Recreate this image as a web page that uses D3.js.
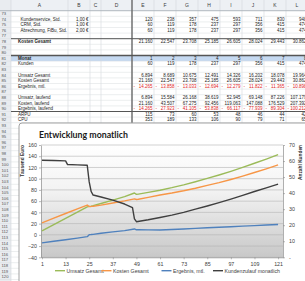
<!DOCTYPE html>
<html>
<head>
<meta charset="utf-8">
<script src="https://cdn.jsdelivr.net/npm/d3@7"></script>
<style>
  body { margin: 0; background: #fff; }
  svg { display: block; }
</style>
</head>
<body>
<div id="blatt"></div>
<script>
// Tabellenwerte, Spalten E bis L
var spalten = ["A", "B", "C", "D", "E", "F", "G", "H", "I", "J", "K", "L"];
var kundenserviceStd = [120, 238, 357, 475, 593, 711, 830, 948];
var crmStd = [60, 119, 178, 237, 297, 356, 415, 474];
var abrechnungStd = [60, 119, 178, 237, 297, 356, 415, 474];
var kostenGesamt = [21160, 22547, 23708, 25185, 26605, 28024, 29443, 30862];
var monatNr = [1, 2, 3, 4, 5, 6, 7, 8];
var kunden = [60, 119, 178, 237, 297, 356, 415, 474];
var umsatzGesamt = [6894, 8689, 10675, 12491, 14326, 16202, 18078, 19964];
var ergebnisMtl = [-14265, -13858, -13033, -12694, -12279, -11822, -11365, -10898];
var umsatzLaufend = [6894, 15584, 26168, 38619, 52945, 69148, 87226, 107179];
var kostenLaufend = [21160, 43507, 67275, 92456, 119063, 147088, 176529, 207392];
var ergebnisLaufend = [-14265, -27923, -41105, -53838, -66117, -77939, -89304, -100212];
var arpu = [115, 73, 60, 53, 48, 46, 44, 42];
var cpu = [353, 189, 133, 106, 90, 79, 71, 65];

// Diagramm "Entwicklung monatlich" (Tausend Euro, Kunden rechts)
var monate = [1, 7, 13, 19, 24, 25, 26, 27, 31, 37, 43, 48, 49, 50, 55, 61, 67, 73, 79, 85, 91, 97, 103, 109, 115, 121];
var umsatzVerlauf = [6.9, 18.1, 29.3, 40.5, 49.8, 50.6, 51.1, 51.9, 55.8, 61.9, 68.0, 74.5, 72.0, 72.6, 75.6, 79.5, 84.0, 89.0, 94.5, 100.5, 106.5, 113.0, 120.0, 127.5, 135.0, 143.0];
var kostenVerlauf = [21.2, 29.6, 38.0, 46.4, 53.0, 50.3, 50.6, 51.0, 53.0, 56.6, 60.4, 64.0, 63.0, 63.4, 66.8, 71.0, 74.5, 78.5, 83.0, 88.0, 93.0, 98.5, 104.5, 111.0, 117.5, 124.5];
var ergebnisVerlauf = [-14.3, -11.5, -8.7, -5.9, -3.2, 0.3, 0.5, 0.9, 2.8, 5.3, 7.6, 10.5, 9.0, 9.2, 8.8, 8.5, 9.5, 10.5, 11.5, 12.5, 13.5, 14.5, 15.5, 16.5, 17.5, 18.5];
var kundenMonate = [1, 7, 13, 14, 19, 24, 25, 26, 27, 31, 37, 43, 47, 48, 49, 55, 61, 67, 73, 79, 85, 91, 97, 103, 109, 115, 121];
var kundenzulauf = [60.5, 60.3, 60.1, 57.8, 57.6, 57.4, 47, 41, 38.8, 37.6, 35.6, 33.2, 31, 24, 22.2, 23.4, 24.8, 26.3, 28, 30, 32, 34.1, 36.3, 38.6, 41, 43.3, 45.6];
var linksTicks = [-40, -20, 0, 20, 40, 60, 80, 100, 120, 140, 160];
var rechtsTicks = [0, 10, 20, 30, 40, 50, 60, 70];
var monatTicks = [1, 13, 25, 37, 49, 61, 73, 85, 97, 109, 121];

var W = 305, H = 281;
var svg = d3.select("#blatt").append("svg")
    .attr("width", W).attr("height", H)
    .style("font-family", "'Liberation Sans', Arial, sans-serif");

var de = d3.formatLocale({decimal: ",", thousands: ".", grouping: [3], currency: ["", " €"]});
var zahl = de.format(",d");

// ---- Tabellenblatt ----
var spaltenX = [11, 68, 90, 101, 132, 154, 176, 198, 220, 242, 264, 286, 308];
var kopfH = 10, zeileH = 5.6, ersteZeile = 73;
function zeileY(nr) { return kopfH + 0.7 + (nr - ersteZeile) * zeileH; }
var zeilen = d3.range(ersteZeile, 122);

// Kopfzeile und Zeilennummern
svg.append("rect").attr("x", 0).attr("y", 0).attr("width", W).attr("height", kopfH + 0.7).attr("fill", "#edf0f4");
svg.append("rect").attr("x", 0).attr("y", 0).attr("width", spaltenX[0]).attr("height", H).attr("fill", "#e9ecf0");

// blaue Monatszeile
svg.append("rect")
    .attr("x", spaltenX[0]).attr("y", zeileY(81))
    .attr("width", W - spaltenX[0]).attr("height", zeileH)
    .attr("fill", "#c5d9f1");

// Gitter
svg.append("g").selectAll("line")
  .data(spaltenX)
  .enter().append("line")
    .attr("x1", function(d) { return d; }).attr("x2", function(d) { return d; })
    .attr("y1", 0).attr("y2", H)
    .attr("stroke", "#d4d7db").attr("stroke-width", 0.6);
svg.append("g").selectAll("line")
  .data(zeilen.concat([122]))
  .enter().append("line")
    .attr("x1", 0).attr("x2", W)
    .attr("y1", function(d) { return zeileY(d); }).attr("y2", function(d) { return zeileY(d); })
    .attr("stroke", "#d9dcdf").attr("stroke-width", 0.5);
svg.append("line").attr("x1", 0).attr("x2", W).attr("y1", kopfH + 0.7).attr("y2", kopfH + 0.7)
    .attr("stroke", "#9ea6b0").attr("stroke-width", 0.7);

svg.append("g").selectAll("text")
  .data(spalten)
  .enter().append("text")
    .attr("x", function(d, i) { return (spaltenX[i] + spaltenX[i + 1]) / 2; })
    .attr("y", 7.3)
    .attr("text-anchor", "middle")
    .attr("font-size", "5px")
    .attr("fill", "#3a3a3a")
    .text(function(d) { return d; });

// nur Zeilennummern, die ganz ins Bild passen
svg.append("g").selectAll("text")
  .data(zeilen.filter(function(d) { return zeileY(d) + 4.2 < H - 0.5; }))
  .enter().append("text")
    .attr("x", 1.5)
    .attr("y", function(d) { return zeileY(d) + 4.2; })
    .attr("font-size", "4.2px")
    .attr("fill", "#555")
    .text(function(d) { return d; });

// dicke Linien
svg.append("line").attr("x1", 132).attr("x2", 132).attr("y1", 0).attr("y2", zeileY(93))
    .attr("stroke", "#6b6b6b").attr("stroke-width", 1.4);
[78, 81, 91].forEach(function(nr) {
  svg.append("line").attr("x1", spaltenX[0]).attr("x2", W)
      .attr("y1", zeileY(nr)).attr("y2", zeileY(nr))
      .attr("stroke", "#555").attr("stroke-width", nr === 81 ? 1.3 : 1);
});

var tabelle = [
  {nr: 74, text: "Kundenservice, Std.", preis: "1,00 €", werte: kundenserviceStd, einzug: true},
  {nr: 75, text: "CRM, Std.", preis: "1,00 €", werte: crmStd, einzug: true},
  {nr: 76, text: "Abrechnung, FiBu, Std.", preis: "2,00 €", werte: abrechnungStd, einzug: true},
  {nr: 78, text: "Kosten Gesamt", werte: kostenGesamt, fett: true},
  {nr: 81, text: "Monat", werte: monatNr, fett: true},
  {nr: 82, text: "Kunden", werte: kunden},
  {nr: 84, text: "Umsatz Gesamt", werte: umsatzGesamt},
  {nr: 85, text: "Kosten Gesamt", werte: kostenGesamt},
  {nr: 86, text: "Ergebnis, mtl.", werte: ergebnisMtl},
  {nr: 88, text: "Umsatz, laufend", werte: umsatzLaufend},
  {nr: 89, text: "Kosten, laufend", werte: kostenLaufend},
  {nr: 90, text: "Ergebnis, laufend", werte: ergebnisLaufend},
  {nr: 91, text: "ARPU", werte: arpu},
  {nr: 92, text: "CPU", werte: cpu}
];

var zeileG = svg.append("g").attr("font-size", "4.5px")
  .selectAll("g")
  .data(tabelle)
  .enter().append("g")
    .attr("transform", function(d) { return "translate(0," + (zeileY(d.nr) + 4.2) + ")"; });

zeileG.append("text")
    .attr("x", function(d) { return d.einzug ? 20.5 : 18; })
    .attr("fill", "#222")
    .attr("font-weight", function(d) { return d.fett ? "bold" : "normal"; })
    .text(function(d) { return d.text; });

zeileG.filter(function(d) { return d.preis; }).append("text")
    .attr("x", spaltenX[2] - 1.5)
    .attr("text-anchor", "end")
    .attr("fill", "#222")
    .text(function(d) { return d.preis; });

zeileG.each(function(z) {
  var g = d3.select(this);
  z.werte.forEach(function(v, i) {
    var links = spaltenX[4 + i], rechts = spaltenX[5 + i];
    g.append("text")
        .attr("x", rechts - 1.5)
        .attr("text-anchor", "end")
        .attr("fill", v < 0 ? "#e0201b" : "#222")
        .text(zahl(Math.abs(v)));
    if (v < 0) {
      g.append("text").attr("x", links + 1.5).attr("fill", "#e0201b").text("-");
    }
  });
});

// ---- Diagramm ----
var box = {x: 19, y: 123};
var plot = {left: 41, right: 283, top: 145, bottom: 257.3};

var defs = svg.append("defs");
var grad = defs.append("linearGradient").attr("id", "hg").attr("x1", 0).attr("x2", 0).attr("y1", 0).attr("y2", 1);
grad.append("stop").attr("offset", "0%").attr("stop-color", "#ffffff");
grad.append("stop").attr("offset", "40%").attr("stop-color", "#f3f3f3");
grad.append("stop").attr("offset", "100%").attr("stop-color", "#c8c8c8");

svg.append("rect")
    .attr("x", box.x).attr("y", box.y)
    .attr("width", W + 10 - box.x).attr("height", H + 10 - box.y)
    .attr("rx", 3)
    .attr("fill", "#fff").attr("stroke", "#8a8a8a").attr("stroke-width", 0.8);

svg.append("text")
    .attr("x", 39).attr("y", 137.5)
    .attr("font-family", "Lato, 'Liberation Sans', sans-serif")
    .attr("font-weight", "bold")
    .attr("font-size", "10px")
    .attr("fill", "#1a1a1a")
    .attr("textLength", 89).attr("lengthAdjust", "spacingAndGlyphs")
    .text("Entwicklung monatlich");

var x = d3.scaleLinear().domain([0.5, 123.5]).range([plot.left, plot.right]);
var yL = d3.scaleLinear().domain([-40, 160]).range([plot.bottom, plot.top]);
var yR = d3.scaleLinear().domain([0, 70]).range([plot.bottom, plot.top]);

svg.append("rect")
    .attr("x", plot.left).attr("y", plot.top)
    .attr("width", plot.right - plot.left).attr("height", plot.bottom - plot.top)
    .attr("fill", "url(#hg)");

svg.append("g").selectAll("line")
  .data(linksTicks)
  .enter().append("line")
    .attr("x1", plot.left).attr("x2", plot.right)
    .attr("y1", function(d) { return yL(d); }).attr("y2", function(d) { return yL(d); })
    .attr("stroke", "#b4b4b4").attr("stroke-width", 0.6);

function stilAchse(g) {
  g.selectAll("path").attr("stroke", "#8c8c8c").attr("stroke-width", 0.7);
  g.selectAll("line").attr("stroke", "#8c8c8c").attr("stroke-width", 0.6);
  g.selectAll("text").attr("fill", "#404040").attr("font-size", "5.3px");
}

svg.append("g")
    .attr("transform", "translate(" + plot.left + ",0)")
    .call(d3.axisLeft(yL).tickValues(linksTicks).tickSize(2).tickSizeOuter(0).tickPadding(2))
    .call(stilAchse);

svg.append("g")
    .attr("transform", "translate(" + plot.right + ",0)")
    .call(d3.axisRight(yR).tickValues(rechtsTicks).tickSize(2).tickSizeOuter(0).tickPadding(4)
      .tickFormat(function(d) { return d === 0 ? "-" : d; }))
    .call(stilAchse);

svg.append("g")
    .attr("transform", "translate(0," + plot.bottom + ")")
    .call(d3.axisBottom(x).tickValues(monatTicks).tickSize(2).tickSizeOuter(0).tickPadding(3))
    .call(stilAchse);

// Achsentitel
svg.append("text")
    .attr("transform", "translate(24,145) rotate(-90)")
    .attr("text-anchor", "end")
    .attr("font-size", "4.8px").attr("font-weight", "bold").attr("fill", "#333")
    .text("Tausend Euro");
svg.append("text")
    .attr("transform", "translate(302,145) rotate(-90)")
    .attr("text-anchor", "end")
    .attr("font-size", "4.8px").attr("font-weight", "bold").attr("fill", "#333")
    .text("Anzahl Kunden");

var reihen = [
  {name: "Umsatz Gesamt", farbe: "#9bbb59", m: monate, v: umsatzVerlauf, y: yL},
  {name: "Kosten Gesamt", farbe: "#f79646", m: monate, v: kostenVerlauf, y: yL},
  {name: "Ergebnis, mtl.", farbe: "#4f81bd", m: monate, v: ergebnisVerlauf, y: yL},
  {name: "Kundenzulauf monatlich", farbe: "#3f3f3f", m: kundenMonate, v: kundenzulauf, y: yR}
];

svg.append("g").selectAll("path")
  .data(reihen)
  .enter().append("path")
    .attr("fill", "none")
    .attr("stroke", function(d) { return d.farbe; })
    .attr("stroke-width", 1.4)
    .attr("stroke-linejoin", "round")
    .attr("d", function(r) {
      return d3.line()
        .x(function(d, i) { return x(r.m[i]); })
        .y(function(d) { return r.y(d); })(r.v);
    });

// Legende
var legX = [55, 101.5, 161.5, 213];
var legende = svg.append("g")
  .selectAll("g")
  .data(reihen)
  .enter().append("g")
    .attr("transform", function(d, i) { return "translate(" + legX[i] + ",270.7)"; });
legende.append("line")
    .attr("x1", 0).attr("x2", 10)
    .attr("stroke", function(d) { return d.farbe; })
    .attr("stroke-width", 1.4);
legende.append("text")
    .attr("x", 11.5).attr("y", 1.8)
    .attr("font-size", "5.2px")
    .attr("fill", "#404040")
    .text(function(d) { return d.name; });
</script>
</body>
</html>
